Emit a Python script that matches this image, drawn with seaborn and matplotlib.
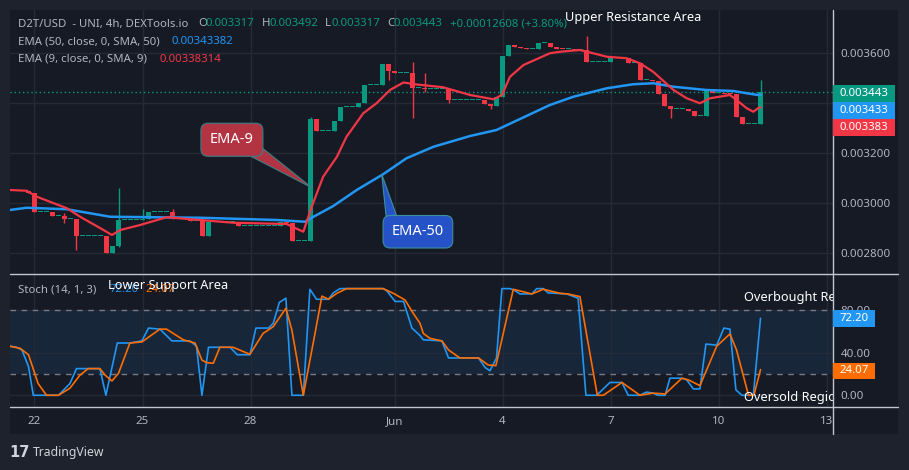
import matplotlib
matplotlib.use("Agg")
import matplotlib.pyplot as plt
from matplotlib.patches import Rectangle, Polygon
from matplotlib.lines import Line2D
import seaborn as sns
import numpy as np

# 4h candles of D2T/USD (index 4 = May 22 00:00)
closes = [
    0.003050, 0.003050, 0.003050, 0.003041, 0.002965,
    0.002965, 0.002965, 0.002950, 0.002950, 0.002936,
    0.002936, 0.002869, 0.002869, 0.002869, 0.002869,
    0.002869, 0.002801, 0.002828, 0.002932, 0.002932,
    0.002932, 0.002932, 0.002935, 0.002963, 0.002963,
    0.002963, 0.002963, 0.002935, 0.002935, 0.002935,
    0.002927, 0.002927, 0.002869, 0.002923, 0.002923,
    0.002923, 0.002923, 0.002923, 0.002910, 0.002910,
    0.002910, 0.002910, 0.002910, 0.002910, 0.002910,
    0.002925, 0.002919, 0.002849, 0.002849, 0.002849,
    0.003335, 0.003289, 0.003289, 0.003289, 0.003328,
    0.003383, 0.003383, 0.003383, 0.003399, 0.003472,
    0.003472, 0.003472, 0.003556, 0.003529, 0.003521,
    0.003521, 0.003521, 0.003459, 0.003459, 0.003455,
    0.003455, 0.003455, 0.003455, 0.003412, 0.003412,
    0.003412, 0.003412, 0.003412, 0.003412, 0.003395,
    0.003388, 0.003423, 0.003588, 0.003632, 0.003625,
    0.003621, 0.003615, 0.003615, 0.003639, 0.003639,
    0.003623, 0.003618, 0.003616, 0.003616, 0.003612,
    0.003612, 0.003565, 0.003565, 0.003565, 0.003565,
    0.003579, 0.003579, 0.003579, 0.003561, 0.003561,
    0.003492, 0.003492, 0.003488, 0.003435, 0.003388,
    0.003375, 0.003375, 0.003375, 0.003370, 0.003349,
    0.003349, 0.003452, 0.003441, 0.003441, 0.003438,
    0.003436, 0.003345, 0.003317, 0.003317, 0.003317,
    0.003443,
]
first_open = 0.003050

# candles that show a wick
wick_idx = [9, 11, 18, 22, 27, 50, 63, 67, 69, 73, 80, 96, 110, 125]
wick_hi = [0.002959, 0.002869, 0.003059, 0.002975, 0.002975, 0.003345, 0.003556,
           0.003565, 0.003519, 0.003459, 0.003395, 0.003668, 0.003388, 0.003492]
wick_lo = [0.002919, 0.002812, 0.002826, 0.002932, 0.002935, 0.002849, 0.003492,
           0.003339, 0.003445, 0.003399, 0.003375, 0.003565, 0.003341, 0.003317]

# EMA lines (candle index, price)
ema9_x = [-0.1, 2.7, 4.4, 9.4, 11.6, 15.5, 16.9, 18.3, 21.6, 26.0, 31.6, 37.1, 46.0, 48.8, 50.2,
          52.1, 54.4, 56.0, 58.8, 61.0, 63.25, 65.5, 67.7, 72.1, 76.6, 80.5, 81.9, 83.25, 85.5, 89.9,
          91.6, 94.9, 97.1, 99.4, 102.7, 104.9, 107.1, 110.5, 112.7, 114.9, 116.6, 119.9, 121.0,
          122.7, 123.8, 124.6, 125.0]
ema9 = [0.003052, 0.003049, 0.003025, 0.002979, 0.002945, 0.002892, 0.002872, 0.002892, 0.002912,
        0.002943, 0.002932, 0.002921, 0.002916, 0.002885, 0.002985, 0.003105, 0.003185, 0.003265,
        0.003359, 0.003399, 0.003452, 0.003482, 0.003474, 0.003463, 0.003432, 0.003415, 0.003432,
        0.003505, 0.003552, 0.003599, 0.003605, 0.003612, 0.003599, 0.003585, 0.003579, 0.003559,
        0.003525, 0.003452, 0.003419, 0.003399, 0.003419, 0.003432, 0.003412, 0.003379, 0.003365,
        0.003379, 0.003383]
ema50_x = [-0.1, 2.7, 9.4, 16.6, 31.6, 44.4, 49.1, 50.5, 53.8, 57.7, 62.1, 66.0, 70.5, 76.6, 81.0,
           89.9, 93.8, 99.4, 103.8, 107.1, 110.5, 116.0, 120.5, 122.7, 124.6, 125.0]
ema50 = [0.002972, 0.002981, 0.002975, 0.002945, 0.002941, 0.002932, 0.002925, 0.002945, 0.002988,
         0.003052, 0.003115, 0.003179, 0.003225, 0.003268, 0.003292, 0.003392, 0.003425, 0.003459,
         0.003475, 0.003479, 0.003465, 0.003452, 0.003448, 0.003439, 0.003432, 0.003433]

# stochastic (14, 1, 3)
k_x = [-0.1, 1.0, 1.9, 3.0, 3.8, 8.0, 9.9, 11.0, 14.9, 15.9, 17.8, 19.9, 21.9, 23.0, 24.9, 26.9,
       29.9, 31.0, 31.9, 33.0, 36.6, 37.8, 39.9, 40.9, 43.0, 43.8, 44.8, 45.9, 46.9, 48.8, 49.9,
       51.0, 53.0, 53.8, 54.9, 62.1, 62.7, 64.1, 65.5, 66.9, 68.25, 68.8, 71.9, 73.0, 78.0, 79.1,
       79.9, 81.0, 81.9, 83.25, 84.1, 84.9, 86.9, 87.7, 88.8, 89.6, 92.7, 94.6, 95.9, 97.7, 99.9,
       101.9, 102.95, 104.9, 106.0, 107.1, 107.9, 109.1, 109.9, 111.9, 112.7, 113.8, 114.9, 115.9,
       117.7, 118.9, 119.9, 120.9, 121.9, 123.8, 125.0]
k_val = [46, 45, 42.5, 27, 0, 0, 11, 25, 25, 0, 49, 49, 51, 63, 62, 51, 51, 46, 0, 45, 45, 38, 38,
         63, 63, 67.5, 87, 91, 0, 0, 99.4, 90, 90, 96, 100, 100, 98, 88, 88, 63, 56, 52, 51, 35, 35,
         26, 23, 35, 100, 100, 98, 95, 95, 100, 100, 96, 95, 91, 0, 0, 12, 12, 0, 0, 3, 2, 0, 0, 16,
         16, 14.4, 6, 6, 48, 47, 63, 62, 5, 0, 0, 72.2]
d_x = [-0.1, 1.6, 3.0, 4.6, 6.0, 8.0, 9.9, 11.6, 12.95, 14.9, 15.75, 16.9, 18.0, 19.9, 21.9, 24.9,
       26.0, 28.8, 30.75, 31.9, 32.7, 33.8, 34.9, 37.1, 39.9, 42.1, 43.8, 45.9, 46.9, 48.8, 50.75,
       51.9, 53.0, 54.4, 56.0, 62.1, 63.8, 65.75, 67.1, 68.25, 68.8, 69.9, 71.9, 73.0, 74.9, 78.0,
       79.6, 80.9, 83.8, 86.9, 88.8, 91.6, 92.9, 94.9, 97.8, 98.8, 101.9, 104.9, 107.1, 109.1,
       111.9, 113.0, 114.9, 117.7, 119.9, 121.0, 123.0, 123.9, 125.0]
d_val = [46, 44, 38, 11, 0, 0, 6.6, 19, 25, 25, 19, 13.4, 20.6, 49, 50, 62, 62, 52, 49, 33, 30.6,
         30, 45, 45, 38.4, 58, 64.4, 81.6, 61, 0, 58, 93, 90, 95.6, 100, 100, 95.6, 89.4, 77, 67.5,
         58, 53.4, 51, 42.5, 35, 35, 28.4, 27.8, 99.4, 95, 99.4, 95.6, 95, 92.5, 0, 0, 12, 0, 2,
         1.25, 16, 14.4, 9, 46, 57.5, 42.5, 0, 0, 24.07]

date_pos = [4, 22, 40, 64, 82, 100, 118, 136]
date_labels = ["22", "25", "28", "Jun", "4", "7", "10", "13"]
price_ticks = [0.0028, 0.0030, 0.0032, 0.0034, 0.0036]
stoch_ticks = [0, 40, 80]

GREEN, RED, BLUE, ORANGE = "#089981", "#f23645", "#2196f3", "#ff6d00"
GREY, BG, OUTER, GRID, LINE = "#b2b5be", "#161a25", "#1e222d", "#262a36", "#c3c6ce"

sns.set_style("dark", {"axes.facecolor": BG, "figure.facecolor": OUTER})
plt.rcParams["font.family"] = ["Noto Sans", "DejaVu Sans"]

W, H = 909, 470
fig = plt.figure(figsize=(9.09, 4.70), dpi=100, facecolor=OUTER)


def fx(x):
    return x / W


def fy(y):
    return 1 - y / H


# chart panel
fig.add_artist(Rectangle((fx(10), fy(434)), fx(898) - fx(10), fy(10) - fy(434),
                         transform=fig.transFigure, fc=BG, ec="none", zorder=-5))

ax = fig.add_axes([fx(10), fy(273), fx(833) - fx(10), fy(10) - fy(273)])
ax2 = fig.add_axes([fx(10), fy(407), fx(833) - fx(10), fy(274) - fy(407)], sharex=ax)

for a in (ax, ax2):
    a.set_facecolor(BG)
    for s in a.spines.values():
        s.set_visible(False)
    a.set_axisbelow(True)
    a.grid(True, color=GRID, lw=1)
    a.yaxis.tick_right()
    a.tick_params(length=0, labelcolor=GREY, labelsize=8.3)
    a.tick_params(axis="y", pad=5.5)

# ---- price pane ----
idx = np.arange(len(closes))
opens = np.array([first_open] + closes[:-1])
cl = np.array(closes)
up = cl >= opens
colors = np.where(up, GREEN, RED)
highs = np.maximum(opens, cl)
lows = np.minimum(opens, cl)
for i, h, l in zip(wick_idx, wick_hi, wick_lo):
    highs[i] = max(highs[i], h)
    lows[i] = min(lows[i], l)

ax.vlines(idx, lows, highs, colors=colors, lw=1, zorder=2)
body = np.maximum(np.abs(cl - opens), 0.000004)
ax.bar(idx, body, bottom=np.minimum(opens, cl), width=0.82, color=colors, lw=0, zorder=2)

sns.lineplot(x=ema50_x, y=ema50, ax=ax, color=BLUE, lw=1.8, estimator=None, sort=False, zorder=3)
sns.lineplot(x=ema9_x, y=ema9, ax=ax, color=RED, lw=1.6, estimator=None, sort=False, zorder=3)
ax.axhline(closes[-1], color=GREEN, ls=(0, (1, 2)), lw=1, zorder=1)

ax.set_xlim(-0.083, 137.08)
ax.set_ylim(0.00272, 0.003772)
ax.set_yticks(price_ticks)
ax.set_yticklabels([f"{t:.6f}" for t in price_ticks])
ax.set_xticks(date_pos)
ax.tick_params(axis="x", labelbottom=False)
ax.set_xlabel("")
ax.set_ylabel("")

# callouts
ax.add_patch(Polygon([(40.2, 0.003185), (41.75, 0.003224), (50.3, 0.003060)],
                     closed=True, fc="#b23442", ec="#3b7f86", lw=0.8, zorder=5))
ax.text(36.9, 0.003253, "EMA-9", color="white", fontsize=10.5, ha="center", va="center", zorder=6,
        bbox=dict(boxstyle="round,pad=0.62,rounding_size=0.5", fc="#b23442", ec="#3b7f86", lw=0.8))
ax.add_patch(Polygon([(62.6, 0.002948), (64.3, 0.002952), (61.87, 0.003115)],
                     closed=True, fc="#2652c7", ec="#3b8fa0", lw=0.8, zorder=5))
ax.text(67.9, 0.002885, "EMA-50", color="white", fontsize=10.5, ha="center", va="center", zorder=6,
        bbox=dict(boxstyle="round,pad=0.6,rounding_size=0.5", fc="#2652c7", ec="#3b8fa0", lw=0.8))

# ---- stochastic pane ----
ax2.axhspan(20, 80, color=BLUE, alpha=0.1, lw=0, zorder=0.5)
for lvl in (80, 20):
    ax2.axhline(lvl, color="#787b86", ls=(0, (4, 4)), lw=1, zorder=1)
sns.lineplot(x=k_x, y=k_val, ax=ax2, color=BLUE, lw=1.2, estimator=None, sort=False, zorder=3)
sns.lineplot(x=d_x, y=d_val, ax=ax2, color=ORANGE, lw=1.2, estimator=None, sort=False, zorder=3)
ax2.set_ylim(-11, 113.7)
ax2.set_yticks(stoch_ticks)
ax2.set_yticklabels([f"{t:.2f}" for t in stoch_ticks])
ax2.set_xticks(date_pos)
ax2.set_xticklabels(date_labels)
ax2.tick_params(axis="x", pad=6.5, labelsize=8.3)
ax2.set_xlabel("")
ax2.set_ylabel("")

ax2.text(fx(744), fy(298), "Overbought Region", transform=fig.transFigure, color="white",
         fontsize=9.2, va="center", ha="left", clip_on=True, zorder=6)
ax2.text(fx(744), fy(398), "Oversold Region", transform=fig.transFigure, color="white",
         fontsize=9.2, va="center", ha="left", clip_on=True, zorder=6)

# separators / axis lines
for (x0, y0, x1, y1) in [(10, 273.5, 898, 273.5), (10, 407, 898, 407), (833, 10, 833, 434)]:
    fig.add_artist(Line2D([fx(x0), fx(x1)], [fy(y0), fy(y1)], transform=fig.transFigure,
                          color=LINE, lw=1, zorder=4))


def tag(x0, y0, x1, y1, color, label):
    fig.add_artist(Rectangle((fx(x0), fy(y1)), fx(x1) - fx(x0), fy(y0) - fy(y1),
                             transform=fig.transFigure, fc=color, ec="none", zorder=5))
    fig.text(fx((x0 + x1) / 2), fy((y0 + y1) / 2), label, color="white", fontsize=8.2,
             fontweight="semibold", ha="center", va="center", zorder=6)


tag(833, 85, 895, 102, GREEN, f"{closes[-1]:.6f}")
tag(833, 102, 895, 119, BLUE, f"{ema50[-1]:.6f}")
tag(833, 119, 895, 135.5, RED, f"{ema9[-1]:.6f}")
tag(833, 310, 875, 326.5, BLUE, f"{k_val[-1]:.2f}")
tag(833, 362.5, 875, 378.5, ORANGE, f"{d_val[-1]:.2f}")

# header legend
header = [
    (18, 24, "D2T/USD  - UNI, 4h, DEXTools.io", GREY),
    (198, 24, "O", GREY), (206, 24, "0.003317", GREEN),
    (262, 24, "H", GREY), (270, 24, "0.003492", GREEN),
    (325, 24, "L", GREY), (332, 24, "0.003317", GREEN),
    (387, 24, "C", GREY), (394, 24, "0.003443", GREEN),
    (450, 24, "+0.00012608 (+3.80%)", GREEN),
    (18, 41.5, "EMA (50, close, 0, SMA, 50)", GREY), (172, 41.5, "0.00343382", BLUE),
    (18, 59, "EMA (9, close, 0, SMA, 9)", GREY), (159, 59, "0.00338314", RED),
    (18, 290, "Stoch (14, 1, 3)", GREY), (109, 290, "72.20", BLUE), (146, 290, "24.07", ORANGE),
]
for x, y, s, c in header:
    fig.text(fx(x), fy(y), s, color=c, fontsize=8.2, ha="left", va="center", zorder=6)

fig.text(fx(565), fy(17.5), "Upper Resistance Area", color="white", fontsize=9.2, ha="left",
         va="center", zorder=7)
fig.text(fx(108), fy(285), "Lower Support Area", color="white", fontsize=9.2, ha="left",
         va="center", zorder=7)

# footer
fig.text(fx(9), fy(452.5), "17", color="#d1d4dc", fontsize=10.5, fontweight="heavy",
         family="DejaVu Sans", ha="left", va="center")
fig.text(fx(33), fy(452.5), "TradingView", color="#d1d4dc", fontsize=8.8, ha="left", va="center")

fig.savefig("out.png", dpi=100, facecolor=OUTER)
